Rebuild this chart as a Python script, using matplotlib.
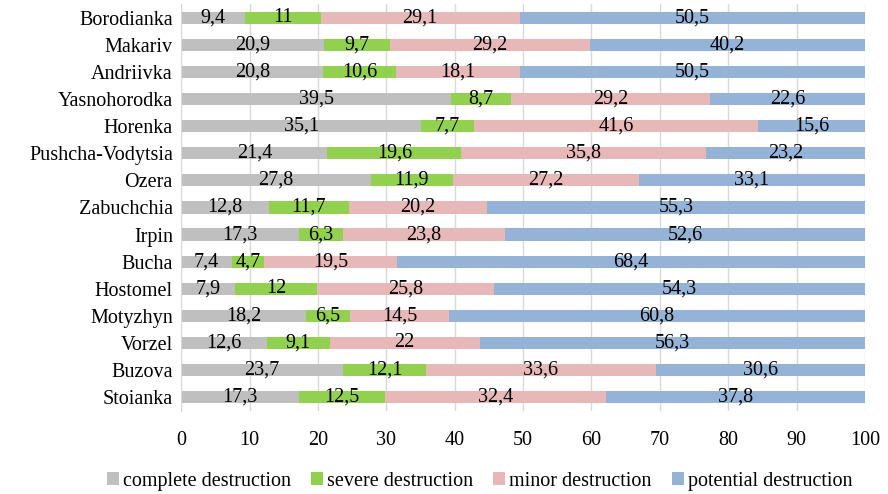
import numpy as np
import matplotlib.pyplot as plt

plt.rcParams['font.family'] = ['Liberation Serif', 'DejaVu Serif']

# Dữ liệu
places = ['Borodianka', 'Makariv', 'Andriivka', 'Yasnohorodka', 'Horenka',
          'Pushcha-Vodytsia', 'Ozera', 'Zabuchchia', 'Irpin', 'Bucha',
          'Hostomel', 'Motyzhyn', 'Vorzel', 'Buzova', 'Stoianka']
complete = [9.4, 20.9, 20.8, 39.5, 35.1, 21.4, 27.8, 12.8, 17.3, 7.4, 7.9, 18.2, 12.6, 23.7, 17.3]
severe = [11, 9.7, 10.6, 8.7, 7.7, 19.6, 11.9, 11.7, 6.3, 4.7, 12, 6.5, 9.1, 12.1, 12.5]
minor = [29.1, 29.2, 18.1, 29.2, 41.6, 35.8, 27.2, 20.2, 23.8, 19.5, 25.8, 14.5, 22, 33.6, 32.4]
potential = [50.5, 40.2, 50.5, 22.6, 15.6, 23.2, 33.1, 55.3, 52.6, 68.4, 54.3, 60.8, 56.3, 30.6, 37.8]

series = [complete, severe, minor, potential]
names = ['complete destruction', 'severe destruction', 'minor destruction', 'potential destruction']
colors = ['#BFBFBF', '#92D050', '#E6B8B7', '#95B3D7']

fs = 14.5

fig = plt.figure(figsize=(8.88, 4.94), dpi=100)
ax = fig.add_axes([0.204, 0.169, 0.770, 0.822])

y = np.arange(len(places))
left = np.zeros(len(places))
for vals, name, c in zip(series, names, colors):
    vals = np.array(vals, dtype=float)
    bars = ax.barh(y, vals, left=left, height=0.45, color=c, label=name, zorder=2)
    labels = [('%g' % v).replace('.', ',') for v in vals]
    ax.bar_label(bars, labels=labels, label_type='center', fontsize=fs, color='black')
    left += vals

ax.set_ylim(len(places) - 0.5, -0.5)
ax.set_xlim(0, 100)
ax.set_yticks(y)
ax.set_yticklabels(places, fontsize=fs)
ax.set_xticks(range(0, 101, 10))
ax.tick_params(axis='x', labelsize=fs, length=0, pad=15)
ax.tick_params(axis='y', length=0, pad=6)

ax.grid(axis='x', color='#D9D9D9', linewidth=1, zorder=0)
for s in ['top', 'right', 'bottom']:
    ax.spines[s].set_visible(False)
ax.spines['left'].set_color('#D9D9D9')

fig.legend(loc='lower center', bbox_to_anchor=(0.54, -0.03), ncol=4, frameon=False,
           fontsize=fs, handlelength=0.6, handleheight=0.6, handletextpad=0.2,
           columnspacing=1.0)

plt.savefig('out.png', dpi=100)
